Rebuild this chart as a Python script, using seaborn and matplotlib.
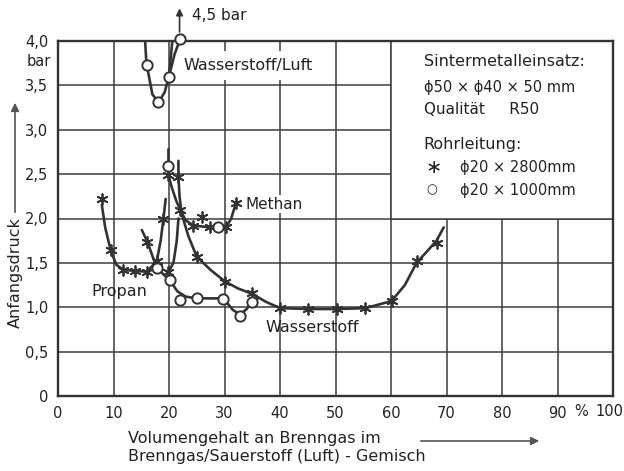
import matplotlib
matplotlib.use("Agg")
import matplotlib.pyplot as plt
from matplotlib.patches import Rectangle, FancyArrowPatch
import seaborn as sns
import pandas as pd

# --- data (x: Vol.-% Brenngas, y: bar) ---
# Propan, Rohrleitung 2800 mm (stars)
propan_line_x = [7.9, 8.5, 9.5, 10.5, 11.8, 13.9, 16.0, 17.8, 18.5, 19.0, 19.4]
propan_line_y = [2.15, 1.90, 1.64, 1.48, 1.42, 1.41, 1.40, 1.52, 1.75, 2.00, 2.22]
propan_star_x = [7.9, 9.5, 11.8, 13.9, 16.0, 17.8, 19.0]
propan_star_y = [2.22, 1.64, 1.42, 1.41, 1.40, 1.52, 2.00]

# Propan, Rohrleitung 1000 mm (circles)
propan2_line_x = [15.1, 16.1, 17.0, 17.8, 19.0, 20.2, 21.5, 23.0, 25.0, 29.8, 31.5, 32.8, 34.0, 34.9, 36.0]
propan2_line_y = [1.87, 1.74, 1.58, 1.45, 1.37, 1.30, 1.18, 1.12, 1.10, 1.10, 0.97, 0.92, 0.98, 1.06, 1.10]
propan2_star_x = [16.1]
propan2_star_y = [1.74]
propan2_circ_x = [17.8, 20.2, 22.0, 25.0, 29.8, 32.8, 34.9]
propan2_circ_y = [1.44, 1.31, 1.08, 1.10, 1.09, 0.90, 1.06]

# Methan
methan_line_x = [19.9, 19.9, 19.9, 20.5, 21.3, 22.0, 23.0, 24.4, 26.0, 27.4, 28.9, 30.3, 31.2, 32.1]
methan_line_y = [2.78, 2.59, 2.49, 2.35, 2.20, 2.10, 1.98, 1.92, 1.91, 1.90, 1.90, 1.90, 2.00, 2.18]
methan_star_x = [19.9, 22.0, 24.4, 25.9, 27.4, 30.3, 32.1]
methan_star_y = [2.49, 2.10, 1.92, 2.02, 1.90, 1.90, 2.18]
methan_circ_x = [19.9, 28.9]
methan_circ_y = [2.59, 1.90]

# Wasserstoff (stars)
h2_line_x = [21.7, 21.7, 21.9, 22.3, 23.5, 25.0, 27.5, 30.1, 32.5, 35.0, 37.5, 40.0, 45.1,
             50.3, 55.4, 60.1, 62.5, 64.6, 66.5, 68.2, 69.5]
h2_line_y = [2.65, 2.47, 2.25, 2.05, 1.80, 1.57, 1.42, 1.29, 1.21, 1.15, 1.06, 0.99, 0.98,
             0.98, 0.99, 1.07, 1.25, 1.50, 1.63, 1.75, 1.90]
h2_star_x = [21.7, 25.0, 30.1, 35.0, 40.0, 45.1, 50.3, 55.4, 60.1, 64.6, 68.2]
h2_star_y = [2.47, 1.57, 1.29, 1.16, 0.99, 0.98, 0.98, 0.99, 1.07, 1.52, 1.72]

# short rising branch near 20 %
h2b_line_x = [19.9, 20.8, 21.4, 21.7]
h2b_line_y = [1.40, 1.50, 1.75, 2.00]
h2b_star_x = [19.9]
h2b_star_y = [1.40]

# Wasserstoff/Luft (circles)
h2air_line_x = [15.7, 15.9, 16.0, 17.0, 18.1, 19.2, 20.0, 21.0, 22.0]
h2air_line_y = [4.00, 3.78, 3.73, 3.40, 3.31, 3.42, 3.60, 3.85, 4.02]
h2air_branch_x = [20.0, 20.6]
h2air_branch_y = [3.60, 4.00]
h2air_circ_x = [16.0, 18.1, 20.0, 22.0]
h2air_circ_y = [3.73, 3.31, 3.60, 4.02]

x_ticks = [0, 10, 20, 30, 40, 50, 60, 70, 80, 90, 100]
x_ticklabels = ["0", "10", "20", "30", "40", "50", "60", "70", "80", "90", ""]
y_ticks = [0, 0.5, 1.0, 1.5, 2.0, 2.5, 3.0, 3.5, 4.0]
y_ticklabels = ["0", "0,5", "1,0", "1,5", "2,0", "2,5", "3,0", "3,5", "4,0"]

sns.set_theme(style="white")
plt.rcParams["font.family"] = ["DejaVu Sans"]
plt.rcParams["font.size"] = 10

INK = "#333333"
TXT = "#222222"
W, H = 624, 471

fig = plt.figure(figsize=(W / 100, H / 100), dpi=100)
ax = fig.add_axes([58 / W, 1 - 396 / H, 555 / W, 355 / H])

ax.set_xlim(0, 100)
ax.set_ylim(0, 4.0)
ax.set_xticks(x_ticks)
ax.set_xticklabels(x_ticklabels)
ax.set_yticks(y_ticks)
ax.set_yticklabels(y_ticklabels)
ax.tick_params(length=0, pad=7, labelsize=10.5, colors=TXT)
ax.grid(True, color="#3c3c3c", linewidth=1.1)
ax.set_axisbelow(True)
for s in ax.spines.values():
    s.set_color("#333333")
    s.set_linewidth(1.7)

# white info box covering the grid at the upper right
ax.add_patch(Rectangle((60, 2.0), 40, 2.0, facecolor="white", edgecolor="#3c3c3c",
                       linewidth=1.1, zorder=1.5))


def curve(xs, ys):
    df = pd.DataFrame({"x": xs, "y": ys})
    sns.lineplot(data=df, x="x", y="y", sort=False, estimator=None, color=INK,
                 linewidth=1.9, ax=ax, zorder=3)


def stars(xs, ys):
    df = pd.DataFrame({"x": xs, "y": ys})
    sns.scatterplot(data=df, x="x", y="y", marker=(6, 2, 0), s=60, color=INK,
                    linewidth=1.3, ax=ax, zorder=5)


def circles(xs, ys):
    df = pd.DataFrame({"x": xs, "y": ys})
    sns.scatterplot(data=df, x="x", y="y", marker="o", s=55, facecolor="white",
                    edgecolor=INK, linewidth=1.4, ax=ax, zorder=6, clip_on=False)


curve(propan_line_x, propan_line_y)
curve(propan2_line_x, propan2_line_y)
curve(methan_line_x, methan_line_y)
curve(h2_line_x, h2_line_y)
curve(h2b_line_x, h2b_line_y)
curve(h2air_line_x, h2air_line_y)
curve(h2air_branch_x, h2air_branch_y)

stars(propan_star_x, propan_star_y)
stars(propan2_star_x, propan2_star_y)
stars(methan_star_x, methan_star_y)
stars(h2_star_x, h2_star_y)
stars(h2b_star_x, h2b_star_y)
circles(propan2_circ_x, propan2_circ_y)
circles(methan_circ_x, methan_circ_y)
circles(h2air_circ_x, h2air_circ_y)

ax.set_xlabel("")
ax.set_ylabel("")

# curve labels
ax.text(22.6, 3.72, "Wasserstoff/Luft", fontsize=11.5, va="center", ha="left", zorder=4,
        color=TXT, bbox=dict(facecolor="white", edgecolor="none", pad=5))
ax.text(33.8, 2.16, "Methan", fontsize=11, va="center", ha="left", zorder=4,
        color=TXT, bbox=dict(facecolor="white", edgecolor="none", pad=1))
ax.text(6.1, 1.18, "Propan", fontsize=11.5, va="center", ha="left", zorder=4, color=TXT)
ax.text(37.3, 0.77, "Wasserstoff", fontsize=11.5, va="center", ha="left", zorder=4, color=TXT)

# 4,5 bar arrow above the axes
ax.annotate("", xy=(21.9, 4.40), xytext=(21.9, 4.07), annotation_clip=False,
            arrowprops=dict(arrowstyle="-|>", color=INK, lw=1.2, mutation_scale=10))
ax.text(24.2, 4.29, "4,5 bar", fontsize=11, va="center", ha="left", clip_on=False, color=TXT)

# info block
ax.text(65.9, 3.77, "Sintermetalleinsatz:", fontsize=11.5, va="center", zorder=4, color=TXT)
ax.text(65.9, 3.48, "ϕ50 × ϕ40 × 50 mm", fontsize=10.5, va="center", zorder=4, color=TXT)
ax.text(65.9, 3.23, "Qualität     R50", fontsize=11, va="center", zorder=4, color=TXT)
ax.text(65.9, 2.83, "Rohrleitung:", fontsize=11.5, va="center", zorder=4, color=TXT)
ax.text(66.3, 2.57, "∗", fontsize=14, va="center", zorder=4, color=TXT)
ax.text(72.4, 2.57, "ϕ20 × 2800mm", fontsize=10.5, va="center", zorder=4, color=TXT)
ax.text(66.3, 2.32, "○", fontsize=9, va="center", zorder=4, color=TXT)
ax.text(72.4, 2.32, "ϕ20 × 1000mm", fontsize=10.5, va="center", zorder=4, color=TXT)

# y-axis unit, x-axis "%" and last tick label
ax.text(-1.2, 3.77, "bar", fontsize=10.5, va="center", ha="right", clip_on=False, color=TXT)
ax.text(94.3, -0.17, "%", fontsize=10.5, va="center", ha="center", clip_on=False, color=TXT)
ax.text(99.4, -0.17, "100", fontsize=10.5, va="center", ha="center", clip_on=False, color=TXT)

# axis titles with arrows (figure coordinates)
fig.text(15 / W, 1 - 273 / H, "Anfangsdruck", rotation=90, fontsize=11.5,
         ha="center", va="center", color=TXT)
fig.add_artist(FancyArrowPatch(
    (15 / W, 1 - 215 / H), (15 / W, 1 - 100 / H), transform=fig.transFigure,
    arrowstyle="-|>", mutation_scale=12, color="#555555", lw=1.2))
fig.text(128 / W, 1 - 438 / H, "Volumengehalt an Brenngas im", fontsize=11.5,
         ha="left", va="center", color=TXT)
fig.text(128 / W, 1 - 457 / H, "Brenngas/Sauerstoff (Luft) - Gemisch", fontsize=11.5,
         ha="left", va="center", color=TXT)
fig.add_artist(FancyArrowPatch(
    (418 / W, 1 - 441 / H), (542 / W, 1 - 441 / H), transform=fig.transFigure,
    arrowstyle="-|>", mutation_scale=12, color="#555555", lw=1.2))

fig.savefig("out.png", dpi=100, facecolor="white")
plt.close(fig)
